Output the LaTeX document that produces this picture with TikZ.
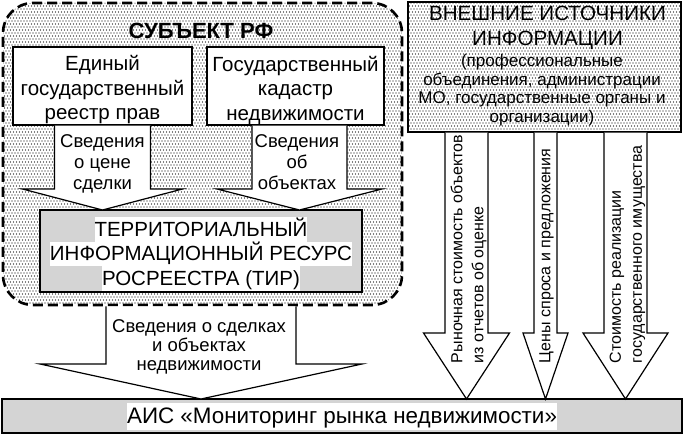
\documentclass[tikz,border=0pt]{standalone}
\usepackage{fontspec}
\setmainfont{Liberation Sans}
\usetikzlibrary{calc,patterns}
\definecolor{boxgray}{RGB}{212,212,212}
\pgfdeclarepatternformonly{subjdots}{\pgfqpoint{-1pt}{-1pt}}{\pgfqpoint{4pt}{7pt}}{\pgfqpoint{3pt}{6pt}}{%
  \pgfpathcircle{\pgfqpoint{0pt}{0pt}}{0.6pt}%
  \pgfpathcircle{\pgfqpoint{1.5pt}{3pt}}{0.6pt}%
  \pgfusepath{fill}}
\newcommand\hlt[1]{{\setlength{\fboxsep}{0pt}\colorbox{white}{\rule[-0.22\baselineskip]{0pt}{\baselineskip}#1}}}
% #1 top point, #2 tip point, #3 shaft half width, #4 head half width, #5 head length
\newcommand\blockarrow[5]{%
  \path[barrow] let \p1=(#1), \p2=(#2) in
    (\x2-#3pt,\y1) -- (\x2-#3pt,\y2+#5pt) -- (\x2-#4pt,\y2+#5pt) -- (\x2,\y2)
    -- (\x2+#4pt,\y2+#5pt) -- (\x2+#3pt,\y2+#5pt) -- (\x2+#3pt,\y1);}
\begin{document}
\begin{tikzpicture}[x=1pt,y=-1pt,
  every node/.style={inner sep=0pt, outer sep=0pt},
  whitebox/.style={draw, line width=1.2pt, fill=white},
  graybox/.style={draw, line width=1.2pt, fill=boxgray},
  subjbox/.style={draw, line width=2.6pt, dash pattern=on 10pt off 5pt, rounded corners=30pt,
    preaction={fill=white}, pattern=subjdots, pattern color=black},
  dotbox/.style={draw, line width=1.2pt, preaction={fill=white}, pattern=subjdots, pattern color=black},
  barrow/.style={draw, line width=1.2pt, fill=white, line join=miter},
  boxtext/.style={align=center, font=\fontsize{20.5}{24.5}\selectfont},
  arrtext/.style={align=center, font=\fontsize{18.5}{21}\selectfont},
  vtext/.style={align=left, rotate=90, anchor=west, font=\fontsize{16}{21}\selectfont},
]
\fill[white] (0,0) rectangle (684,435);
\useasboundingbox (0,0) rectangle (684,435);

% containers and boxes
\node[subjbox, minimum width=399pt, minimum height=302pt] (subj) at (202.5,154) {};
\node[dotbox, minimum width=273pt, minimum height=130pt] (ext) at (544.5,67) {};
\node[whitebox, minimum width=179pt, minimum height=78pt] (box1) at (102.5,86) {};
\node[whitebox, minimum width=177pt, minimum height=78pt] (box2) at (295.5,86) {};
\node[graybox, minimum width=322pt, minimum height=82pt] (tir) at (201,251) {};
\node[graybox, minimum width=680pt, minimum height=34pt] (ais) at (342,416) {};

\coordinate (xa) at (466.5,0);
\coordinate (xb) at (545.5,0);
\coordinate (xc) at (625.5,0);

% block arrows
\blockarrow{$(box1.south)+(0,0.6)$}{box1.south |- tir.north}{48}{80}{21}
\blockarrow{$(box2.south)+(0,0.6)$}{$(box2.south |- tir.north)+(4,0)$}{47.5}{82.5}{21}
\blockarrow{$(subj.south)+(0,1.3)$}{tir.south |- ais.north}{95}{161}{35}
\blockarrow{$(xa |- ext.south)+(0,0.6)$}{xa |- ais.north}{21.5}{43}{66}
\blockarrow{$(xb |- ext.south)+(0,0.6)$}{xb |- ais.north}{11.5}{22.5}{66}
\blockarrow{$(xc |- ext.south)+(0,0.6)$}{xc |- ais.north}{21.5}{42.5}{66}

% texts
\node[font=\fontsize{22}{26}\selectfont\bfseries] (subjt) at (201,31) {СУБЪЕКТ РФ};
\node[boxtext] (box1t) at (102.5,90) {Единый\\государственный\\реестр прав};
\node[boxtext] (box2t) at (295.5,90) {Государственный\\кадастр\\недвижимости};
\node[arrtext] (a1t) at (102.5,164) {Сведения\\о цене\\сделки};
\node[arrtext] (a2t) at (297,162.5) {Сведения\\об\\объектах};
\node[align=center, font=\fontsize{20.5}{24.5}\selectfont] (tirt) at (201,254)
  {\hlt{ТЕРРИТОРИАЛЬНЫЙ}\\\hlt{ИНФОРМАЦИОННЫЙ РЕСУРС}\\\hlt{РОСРЕЕСТРА (ТИР)}};
\node[align=center, font=\fontsize{18.5}{19}\selectfont] (a3t) at (199,347)
  {Сведения о сделках\\и объектах\\недвижимости};
\node[font=\fontsize{22.4}{27}\selectfont] (aist) at (342,416.4)
  {\hlt{АИС «Мониторинг рынка недвижимости»}};
\node[align=center, font=\fontsize{20.6}{25}\selectfont] (extt) at (547.5,27.5)
  {ВНЕШНИЕ ИСТОЧНИКИ\\ИНФОРМАЦИИ};
\node[align=center, font=\fontsize{17}{18.7}\selectfont] (exts) at (542,90)
  {(профессиональные\\объединения, администрации\\МО, государственные органы и\\организации)};
\node[vtext] (vat) at (468.5,363) {Рыночная стоимость объектов\\из отчетов об оценке};
\node[vtext] (vbt) at (546.5,363) {Цены спроса и предложения};
\node[vtext] (vct) at (627.5,363) {Стоимость реализации\\государственного имущества};
\end{tikzpicture}
\end{document}
